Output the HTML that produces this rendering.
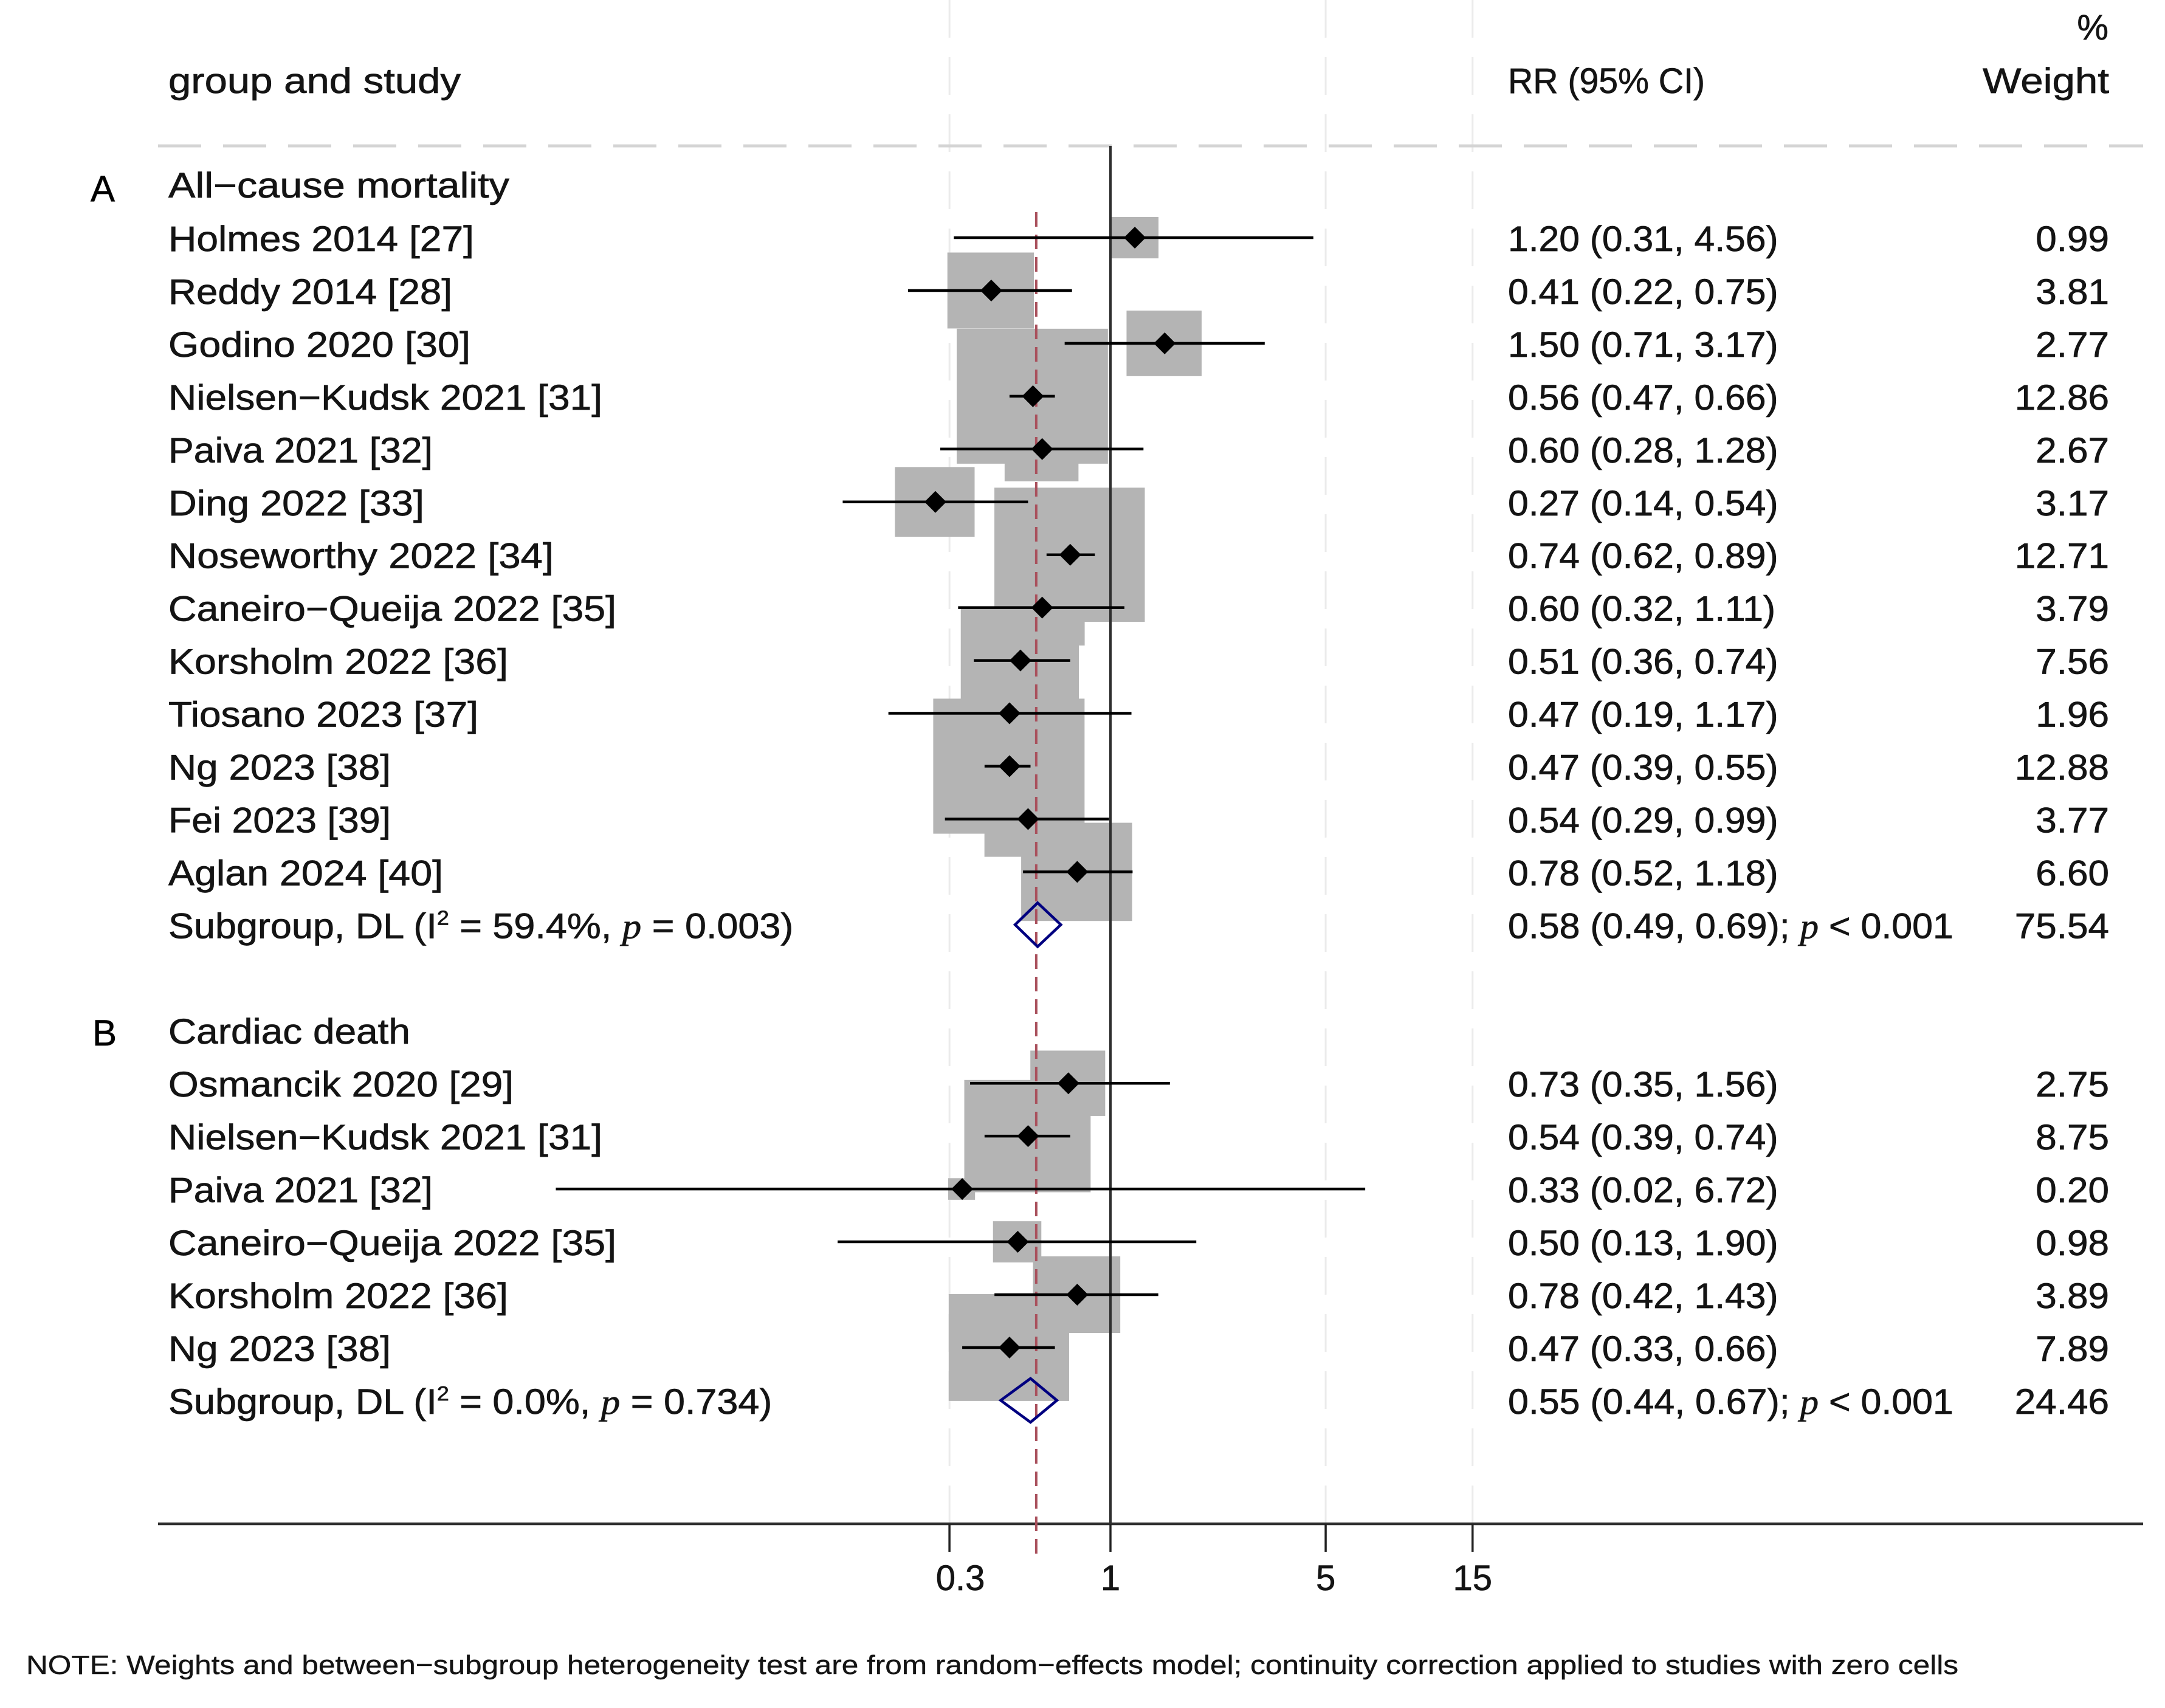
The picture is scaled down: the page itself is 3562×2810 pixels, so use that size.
<!DOCTYPE html>
<html lang="en">
<head>
<meta charset="utf-8">
<title>Forest plot of all-cause mortality and cardiac death</title>
<style>
html,body{margin:0;padding:0;background:#fff;}
svg{display:block;}
text{font-family:"Liberation Sans",sans-serif;font-size:58px;fill:#141414;stroke:#141414;stroke-width:.7px;}
</style>
</head>
<body>
<svg id="chart" xmlns="http://www.w3.org/2000/svg" width="3562" height="2810" viewBox="0 0 3562 2810">
  <rect x="0" y="0" width="3562" height="2810" fill="#ffffff"/>
  <g id="grid"></g>
  <g id="boxes"></g>
  <line x1="260" y1="240" x2="3526" y2="240" stroke="#d4d4d4" stroke-width="5" stroke-dasharray="71 36"/>
  <g id="axis"></g>
  <g id="refs"></g>
  <g id="marks"></g>
  <g id="rows"></g>

  <text x="3469" y="65" text-anchor="end">%</text>
  <text x="277" y="153" textLength="481" lengthAdjust="spacingAndGlyphs">group and study</text>
  <text x="2481" y="153" textLength="324" lengthAdjust="spacingAndGlyphs">RR (95% CI)</text>
  <text x="3262" y="153" textLength="208" lengthAdjust="spacingAndGlyphs">Weight</text>
  <text x="149" y="331" style="font-size:60px;fill:#000">A</text>
  <text x="277" y="325" textLength="561" lengthAdjust="spacingAndGlyphs">All−cause mortality</text>
  <text x="152" y="1720" style="font-size:60px;fill:#000">B</text>
  <text x="277" y="1717" textLength="398" lengthAdjust="spacingAndGlyphs">Cardiac death</text>
  <text x="43" y="2754" textLength="3179" lengthAdjust="spacingAndGlyphs" style="font-size:44px;stroke-width:.4px">NOTE: Weights and between−subgroup heterogeneity test are from random−effects model; continuity correction applied to studies with zero cells</text>
</svg>

<script>
const studiesA = ["Holmes 2014 [27]","Reddy 2014 [28]","Godino 2020 [30]","Nielsen−Kudsk 2021 [31]","Paiva 2021 [32]","Ding 2022 [33]","Noseworthy 2022 [34]","Caneiro−Queija 2022 [35]","Korsholm 2022 [36]","Tiosano 2023 [37]","Ng 2023 [38]","Fei 2023 [39]","Aglan 2024 [40]"];
const rrA = [1.20,0.41,1.50,0.56,0.60,0.27,0.74,0.60,0.51,0.47,0.47,0.54,0.78];
const lowerA = [0.31,0.22,0.71,0.47,0.28,0.135,0.62,0.32,0.36,0.19,0.39,0.29,0.52];
const upperA = [4.56,0.75,3.17,0.66,1.28,0.54,0.89,1.11,0.74,1.17,0.55,0.99,1.18];
const weightA = [0.99,3.81,2.77,12.86,2.67,3.17,12.71,3.79,7.56,1.96,12.88,3.77,6.60];

const studiesB = ["Osmancik 2020 [29]","Nielsen−Kudsk 2021 [31]","Paiva 2021 [32]","Caneiro−Queija 2022 [35]","Korsholm 2022 [36]","Ng 2023 [38]"];
const rrB = [0.73,0.54,0.33,0.50,0.78,0.47];
const lowerB = [0.35,0.39,0.0158,0.13,0.42,0.33];
const upperB = [1.56,0.74,6.72,1.90,1.43,0.66];
const weightB = [2.75,8.75,0.20,0.98,3.89,7.89];

const subgroupRR = [0.58,0.55];
const subgroupLower = [0.49,0.44];
const subgroupUpper = [0.69,0.67];
const subgroupWeight = [75.54,24.46];
const subgroupI2 = ["59.4","0.0"];
const subgroupHetP = ["0.003","0.734"];

const overallRR = 0.574;
const nullRR = 1;
const tickValues = [0.3,1,5,15];
const tickLabels = ["0.3","1","5","15"];
const gridValues = [0.3,5,15];

const NS = "http://www.w3.org/2000/svg";
const X_ONE = 1827, X_PER_LOG = 220;
const ROW0 = 391, ROW_H = 86.95;
const AXIS_Y = 2507;
const x = v => X_ONE + X_PER_LOG * Math.log(v);
const y = row => ROW0 + ROW_H * row;
const boxW = w => 15 + 65.2 * Math.sqrt(w);
const boxH = w => 9 + 59.4 * Math.sqrt(w);
const BASELINE = 22;
const SUMMARY_NAME_SCALE = 1.085, CI_SCALE = 1.045, SUMMARY_CI_SCALE = 1.05, WEIGHT_SCALE = 1.07;

function make(tag, parent, attrs) {
  const el = document.createElementNS(NS, tag);
  for (const k in attrs) el.setAttribute(k, attrs[k]);
  parent.appendChild(el);
  return el;
}
const gGrid = document.getElementById("grid");
const gBoxes = document.getElementById("boxes");
const gAxis = document.getElementById("axis");
const gRefs = document.getElementById("refs");
const gMarks = document.getElementById("marks");
const gRows = document.getElementById("rows");

function fittedNameWidth(name) {
  const surname = name.split(" ")[0];
  if (surname === "Holmes") return 503;
  if (surname === "Reddy") return 467;
  if (surname === "Godino") return 497;
  if (surname === "Nielsen−Kudsk") return 714;
  if (surname === "Paiva") return 435;
  if (surname === "Ding") return 421;
  if (surname === "Noseworthy") return 634;
  if (surname === "Caneiro−Queija") return 737;
  if (surname === "Korsholm") return 559;
  if (surname === "Tiosano") return 510;
  if (surname === "Ng") return 366;
  if (surname === "Fei") return 366;
  if (surname === "Aglan") return 452;
  return 568;
}

gridValues.forEach(v => {
  const el = make("line", gGrid, {x1:x(v),x2:x(v),y1:0,y2:AXIS_Y,stroke:"#ebebeb","stroke-width":3,"stroke-dasharray":"62 32"});
  
  
});

function drawBox(rr, w, row) {
  const bw = boxW(w), bh = boxH(w);
  const el = make("rect", gBoxes, {x:x(rr)-bw/2-1,y:y(row)-bh/2,width:bw,height:bh,fill:"#b4b4b4"});
  
  
}
function drawEstimate(rr, lo, hi, row) {
  const line = make("line", gMarks, {x1:x(lo),x2:x(hi),y1:y(row),y2:y(row),stroke:"#000","stroke-width":4.5});
  
  
  const cx = x(rr), cy = y(row);
  const pt = make("polygon", gMarks, {points:`${cx-18},${cy} ${cx},${cy-18} ${cx+18},${cy} ${cx},${cy+18}`,fill:"#000"});
  
  
}
function drawSummary(rr, lo, hi, row) {
  const cy = y(row);
  const d = make("polygon", gMarks, {points:`${x(lo)},${cy} ${x(rr)},${cy-36} ${x(hi)},${cy} ${x(rr)},${cy+36}`,fill:"none",stroke:"#000080","stroke-width":4.5});
  
  
}
function placeText(px, py, scale, anchor, name) {
  const t = make("text", gRows, {transform:`translate(${px},${py}) scale(${scale},1)`,"text-anchor":anchor});
  
  
  return t;
}
function writeRow(name, rr, lo, hi, w, row) {
  const by = y(row) + BASELINE;
  const label = make("text", gRows, {x:277,y:by,textLength:fittedNameWidth(name),lengthAdjust:"spacingAndGlyphs"});
  
  
  label.textContent = name;
  placeText(2481, by, CI_SCALE, "start", "effect-size-label").textContent =
    `${rr.toFixed(2)} (${lo.toFixed(2)}, ${hi.toFixed(2)})`;
  placeText(3470, by, WEIGHT_SCALE, "end", "weight-label").textContent = w.toFixed(2);
}
function writeSummary(i, row) {
  const by = y(row) + BASELINE;
  const a = placeText(277, by, SUMMARY_NAME_SCALE, "start", "subgroup-label");
  make("tspan", a, {}).textContent = "Subgroup, DL (I";
  const sup = make("tspan", a, {dy:-22,style:"font-size:33px"});
  sup.textContent = "2";
  make("tspan", a, {dy:22}).textContent = ` = ${subgroupI2[i]}%, `;
  make("tspan", a, {style:"font-family:'Liberation Serif',serif;font-style:italic"}).textContent = "p";
  make("tspan", a, {}).textContent = ` = ${subgroupHetP[i]})`;
  const b = placeText(2481, by, SUMMARY_CI_SCALE, "start", "subgroup-effect-label");
  make("tspan", b, {}).textContent = `${subgroupRR[i].toFixed(2)} (${subgroupLower[i].toFixed(2)}, ${subgroupUpper[i].toFixed(2)}); `;
  make("tspan", b, {style:"font-family:'Liberation Serif',serif;font-style:italic"}).textContent = "p";
  make("tspan", b, {}).textContent = " < 0.001";
  placeText(3470, by, WEIGHT_SCALE, "end", "subgroup-weight-label").textContent = subgroupWeight[i].toFixed(2);
}

const startA = 0, summaryA = startA + studiesA.length;
const startB = 16, summaryB = startB + studiesB.length;

studiesA.forEach((s,i) => drawBox(rrA[i], weightA[i], startA+i));
studiesB.forEach((s,i) => drawBox(rrB[i], weightB[i], startB+i));

const nullLine = make("line", gRefs, {x1:x(nullRR),x2:x(nullRR),y1:240,y2:AXIS_Y,stroke:"#2e2e2e","stroke-width":4});



const axisLine = make("line", gAxis, {x1:260,x2:3526,y1:AXIS_Y,y2:AXIS_Y,stroke:"#2e2e2e","stroke-width":4.5});


tickValues.forEach((v,i) => {
  const tick = make("line", gAxis, {x1:x(v),x2:x(v),y1:AXIS_Y,y2:AXIS_Y+46,stroke:"#222","stroke-width":3.5});
  
  
  const label = make("text", gAxis, {x:x(v) + (v < 1 ? 18 : 0),y:2616,"text-anchor":"middle"});
  
  
  label.textContent = tickLabels[i];
});

const overallLine = make("line", gRefs, {x1:x(overallRR),x2:x(overallRR),y1:349,y2:2562,stroke:"#a9505c","stroke-width":4,"stroke-dasharray":"24 13"});



studiesA.forEach((s,i) => {
  drawEstimate(rrA[i], lowerA[i], upperA[i], startA+i);
  writeRow(s, rrA[i], lowerA[i], upperA[i], weightA[i], startA+i);
});
studiesB.forEach((s,i) => {
  drawEstimate(rrB[i], lowerB[i], upperB[i], startB+i);
  writeRow(s, rrB[i], lowerB[i], upperB[i], weightB[i], startB+i);
});
drawSummary(subgroupRR[0], subgroupLower[0], subgroupUpper[0], summaryA);
drawSummary(subgroupRR[1], subgroupLower[1], subgroupUpper[1], summaryB);
writeSummary(0, summaryA);
writeSummary(1, summaryB);
</script>
</body>
</html>
